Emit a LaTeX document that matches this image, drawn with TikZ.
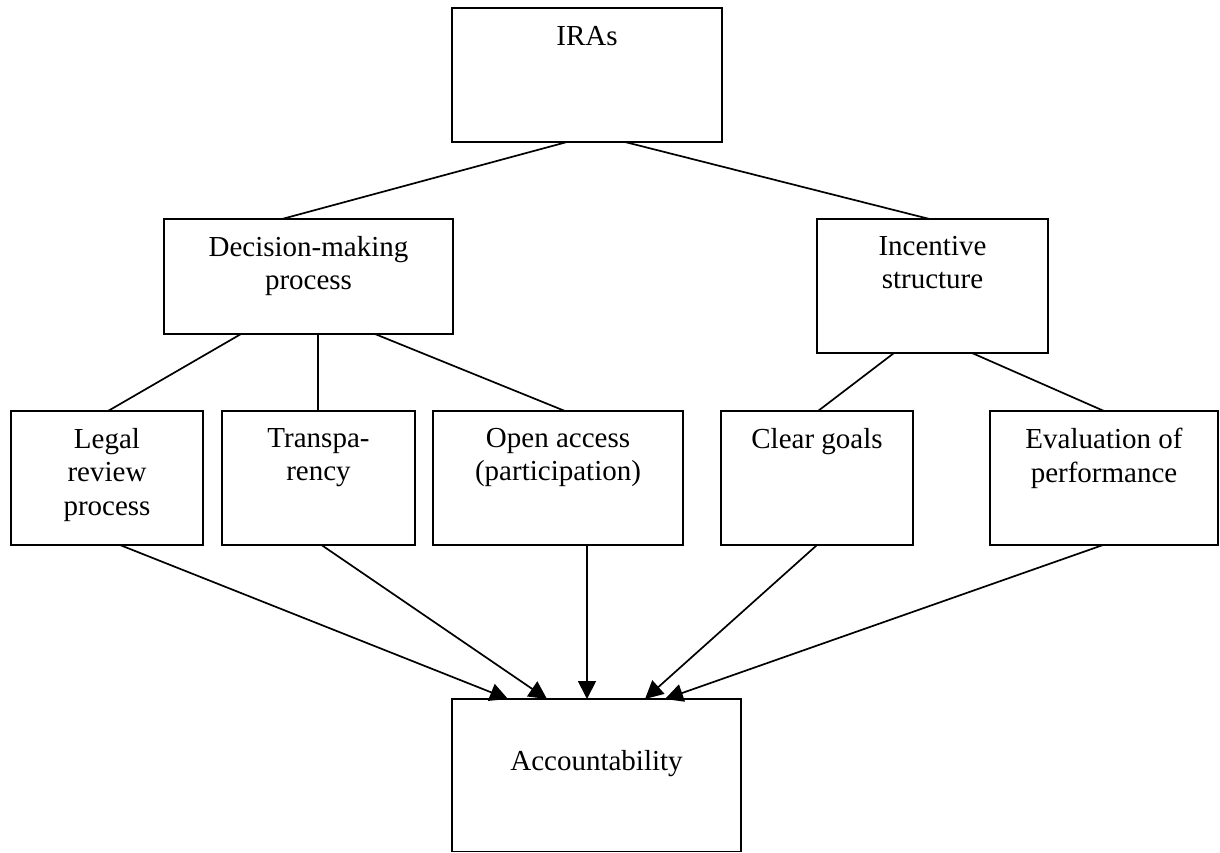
\documentclass[tikz,border=0pt]{standalone}
\usepackage{fontspec}
\setmainfont{Liberation Serif}
\usetikzlibrary{arrows.meta}
\tikzset{
  box/.style={draw, line width=1.8pt, rectangle, inner sep=0pt, outer sep=0pt},
  lbl/.style={inner sep=0pt, align=center, anchor=north,
              font=\fontsize{29pt}{33.5pt}\selectfont},
  link/.style={line width=1.7pt},
  flow/.style={line width=1.7pt, -{Triangle[length=18pt,width=18pt]}}
}
\begin{document}
\begin{tikzpicture}[x=1pt,y=-1pt]
\useasboundingbox (0,0) rectangle (1220,852);

% boxes
\node[box, minimum width=270pt, minimum height=134pt] (ira) at (587,75) {};
\node[box, minimum width=289pt, minimum height=115pt] (dec) at (308.5,276.5) {};
\node[box, minimum width=231pt, minimum height=134pt] (inc) at (932.5,286) {};
\node[box, minimum width=192pt, minimum height=134pt] (leg) at (107,478) {};
\node[box, minimum width=193pt, minimum height=134pt] (tra) at (318.5,478) {};
\node[box, minimum width=250pt, minimum height=134pt] (opn) at (558,478) {};
\node[box, minimum width=192pt, minimum height=134pt] (clr) at (817,478) {};
\node[box, minimum width=228pt, minimum height=134pt] (eva) at (1104,478) {};
\node[box, minimum width=289pt, minimum height=152.5pt] (acc) at (596.5,775.25) {};

% labels
\node[lbl] (tira) at ([yshift=-18pt]ira.north) {IRAs};
\node[lbl] (tdec) at ([yshift=-17pt]dec.north) {Decision-making\\process};
\node[lbl] (tinc) at ([yshift=-17pt]inc.north) {Incentive\\structure};
\node[lbl] (tleg) at ([yshift=-17pt]leg.north) {Legal\\review\\process};
\node[lbl] (ttra) at ([yshift=-17pt]tra.north) {Transpa-\\rency};
\node[lbl] (topn) at ([yshift=-17pt]opn.north) {Open access\\(participation)};
\node[lbl] (tclr) at ([yshift=-17pt]clr.north) {Clear goals};
\node[lbl] (teva) at ([yshift=-17pt]eva.north) {Evaluation of\\performance};
\node[lbl] (tacc) at ([yshift=-51pt]acc.north) {Accountability};

% hierarchy links
\draw[link] ([xshift=-20pt]ira.south) -- ([xshift=-26.5pt]dec.north);
\draw[link] ([xshift=38pt]ira.south) -- ([xshift=-3pt]inc.north);
\draw[link] ([xshift=-67.5pt]dec.south) -- ([xshift=1pt]leg.north);
\draw[link] ([xshift=9.5pt]dec.south) -- ([xshift=-0.5pt]tra.north);
\draw[link] ([xshift=66.5pt]dec.south) -- ([xshift=7pt]opn.north);
\draw[link] ([xshift=-38.5pt]inc.south) -- ([xshift=1pt]clr.north);
\draw[link] ([xshift=39.5pt]inc.south) -- (eva.north);

% arrows into accountability
\draw[flow] ([xshift=13pt]leg.south) -- ([xshift=-88.5pt]acc.north);
\draw[flow] ([xshift=3pt]tra.south) -- ([xshift=-49.5pt]acc.north);
\draw[flow] ([xshift=29pt]opn.south) -- ([xshift=-9.5pt]acc.north);
\draw[flow] (clr.south) -- ([xshift=48.5pt]acc.north);
\draw[flow] ([xshift=-1pt]eva.south) -- ([xshift=68.5pt]acc.north);
\end{tikzpicture}
\end{document}
